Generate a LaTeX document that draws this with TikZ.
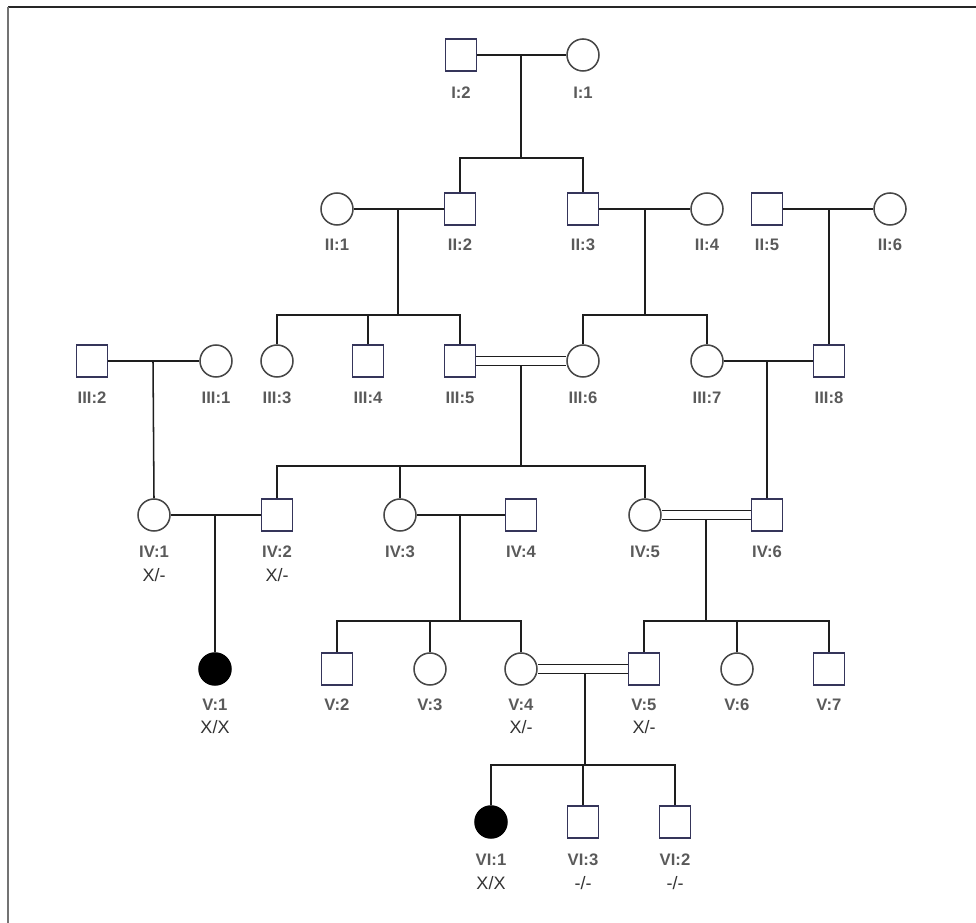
\documentclass[tikz,border=0pt]{standalone}
\usepackage{fontspec}
\setmainfont{Liberation Sans}
\definecolor{lnc}{HTML}{1E1E1E}
\definecolor{sqc}{HTML}{35355A}
\definecolor{cic}{HTML}{474747}
\definecolor{idc}{HTML}{5A5A5A}
\definecolor{gtc}{HTML}{333333}
\begin{document}
\begin{tikzpicture}[x=0.75pt,y=-0.75pt,
  male/.style={draw=sqc,line width=1.15pt,fill=white,minimum width=23.25pt,minimum height=24pt,inner sep=0pt},
  female/.style={circle,draw=cic,line width=1.15pt,fill=white,minimum size=24pt,inner sep=0pt},
  affected/.style={circle,draw=black,line width=1.15pt,fill=black,minimum size=24pt,inner sep=0pt},
  idl/.style={font=\bfseries\fontsize{12.5}{13}\selectfont,text=idc,inner sep=0pt},
  gtl/.style={font=\fontsize{13.5}{14}\selectfont,text=gtc,inner sep=0pt},
  ln/.style={draw=lnc,line width=1.15pt},
  dbl/.style={draw=lnc,line width=1.15pt,double=white,double distance=5.6pt}]
\useasboundingbox (0,0) rectangle (976,923);
\draw[draw=black!85,line width=1.5pt] (8,7) -- (976,7);
\draw[draw=black!55,line width=1.5pt] (8,7) -- (8,923);
% ---- Generation I
\node[male] (I2) at (461,55) {};
\node[female] (I1) at (583,55) {};
% ---- Generation II
\node[female] (II1) at (337,209) {};
\node[male] (II2) at (460,209) {};
\node[male] (II3) at (583,209) {};
\node[female] (II4) at (707,209) {};
\node[male] (II5) at (767,209) {};
\node[female] (II6) at (890,209) {};
% ---- Generation III
\node[male] (III2) at (92,361) {};
\node[female] (III1) at (216,361) {};
\node[female] (III3) at (277,361) {};
\node[male] (III4) at (368,361) {};
\node[male] (III5) at (460,361) {};
\node[female] (III6) at (583,361) {};
\node[female] (III7) at (707,361) {};
\node[male] (III8) at (829,361) {};
% ---- Generation IV
\node[female] (IV1) at (154,515) {};
\node[male] (IV2) at (277,515) {};
\node[female] (IV3) at (400,515) {};
\node[male] (IV4) at (521,515) {};
\node[female] (IV5) at (645,515) {};
\node[male] (IV6) at (767,515) {};
% ---- Generation V
\node[affected] (V1) at (215,669) {};
\node[male] (V2) at (337,669) {};
\node[female] (V3) at (430,669) {};
\node[female] (V4) at (521,669) {};
\node[male] (V5) at (644,669) {};
\node[female] (V6) at (737,669) {};
\node[male] (V7) at (829,669) {};
% ---- Generation VI
\node[affected] (VI1) at (491,822) {};
\node[male] (VI3) at (583,822) {};
\node[male] (VI2) at (675,822) {};
% ---- ID labels
\node[idl] (lI2) at (461,93) {I:2};
\node[idl] (lI1) at (583,93) {I:1};
\node[idl] (lII1) at (337,245) {II:1};
\node[idl] (lII2) at (460,245) {II:2};
\node[idl] (lII3) at (583,245) {II:3};
\node[idl] (lII4) at (707,245) {II:4};
\node[idl] (lII5) at (767,245) {II:5};
\node[idl] (lII6) at (890,245) {II:6};
\node[idl] (lIII2) at (92,398) {III:2};
\node[idl] (lIII1) at (216,398) {III:1};
\node[idl] (lIII3) at (277,398) {III:3};
\node[idl] (lIII4) at (368,398) {III:4};
\node[idl] (lIII5) at (460,398) {III:5};
\node[idl] (lIII6) at (583,398) {III:6};
\node[idl] (lIII7) at (707,398) {III:7};
\node[idl] (lIII8) at (829,398) {III:8};
\node[idl] (lIV1) at (154,552) {IV:1};
\node[idl] (lIV2) at (277,552) {IV:2};
\node[idl] (lIV3) at (400,552) {IV:3};
\node[idl] (lIV4) at (521,552) {IV:4};
\node[idl] (lIV5) at (645,552) {IV:5};
\node[idl] (lIV6) at (767,552) {IV:6};
\node[idl] (lV1) at (215,705) {V:1};
\node[idl] (lV2) at (337,705) {V:2};
\node[idl] (lV3) at (430,705) {V:3};
\node[idl] (lV4) at (521,705) {V:4};
\node[idl] (lV5) at (644,705) {V:5};
\node[idl] (lV6) at (737,705) {V:6};
\node[idl] (lV7) at (829,705) {V:7};
\node[idl] (lVI1) at (491,860) {VI:1};
\node[idl] (lVI3) at (583,860) {VI:3};
\node[idl] (lVI2) at (675,860) {VI:2};
% ---- genotypes
\node[gtl] (gIV1) at (154,575) {X/-};
\node[gtl] (gIV2) at (277,575) {X/-};
\node[gtl] (gV1) at (215,727) {X/X};
\node[gtl] (gV4) at (521,727) {X/-};
\node[gtl] (gV5) at (644,727) {X/-};
\node[gtl] (gVI1) at (491,883) {X/X};
\node[gtl] (gVI3) at (583,883) {-/-};
\node[gtl] (gVI2) at (675,883) {-/-};
% ---- coordinates for matings and sibships
\coordinate (mI) at (521,55);
\coordinate (sI) at (521,158);
\coordinate (mII12) at (398,209);
\coordinate (sII12) at (398,315);
\coordinate (mII34) at (645,209);
\coordinate (sII34) at (645,315);
\coordinate (mII56) at (829,209);
\coordinate (mIII21) at (153,361);
\coordinate (mIII56) at (521,365.5);
\coordinate (sIII56) at (521,466);
\coordinate (mIII78) at (767,361);
\coordinate (mIV12) at (215,515);
\coordinate (mIV34) at (460,515);
\coordinate (sIV34) at (460,621);
\coordinate (mIV56) at (706,519.5);
\coordinate (sIV56) at (706,621);
\coordinate (mV45) at (585,673.5);
\coordinate (sV45) at (585,765);
% ---- Generation I mating and children
\draw[ln] (I2) -- (I1);
\draw[ln] (mI) -- (sI);
\draw[ln] (II2.north) |- (sI) -| (II3.north);
% ---- Generation II matings
\draw[ln] (II1) -- (II2);
\draw[ln] (mII12) -- (sII12);
\draw[ln] (III3.north) |- (sII12) -| (III5.north);
\draw[ln] (III4.north) -- (III4.north |- sII12);
\draw[ln] (II3) -- (II4);
\draw[ln] (mII34) -- (sII34);
\draw[ln] (III6.north) |- (sII34) -| (III7.north);
\draw[ln] (II5) -- (II6);
\draw[ln] (mII56) -- (III8.north);
% ---- Generation III matings
\draw[ln] (III2) -- (III1);
\draw[ln] (mIII21) -- (IV1.north);
\draw[dbl] (III5) -- (III6);
\draw[ln] (mIII56) -- (sIII56);
\draw[ln] (IV2.north) |- (sIII56) -| (IV5.north);
\draw[ln] (IV3.north) -- (IV3.north |- sIII56);
\draw[ln] (III7) -- (III8);
\draw[ln] (mIII78) -- (IV6.north);
% ---- Generation IV matings
\draw[ln] (IV1) -- (IV2);
\draw[ln] (mIV12) -- (V1.north);
\draw[ln] (IV3) -- (IV4);
\draw[ln] (mIV34) -- (sIV34);
\draw[ln] (V2.north) |- (sIV34) -| (V4.north);
\draw[ln] (V3.north) -- (V3.north |- sIV34);
\draw[dbl] (IV5) -- (IV6);
\draw[ln] (mIV56) -- (sIV56);
\draw[ln] (V5.north) |- (sIV56) -| (V7.north);
\draw[ln] (V6.north) -- (V6.north |- sIV56);
% ---- Generation V mating
\draw[dbl] (V4) -- (V5);
\draw[ln] (mV45) -- (sV45);
\draw[ln] (VI1.north) |- (sV45) -| (VI2.north);
\draw[ln] (VI3.north) -- (VI3.north |- sV45);
\end{tikzpicture}
\end{document}
